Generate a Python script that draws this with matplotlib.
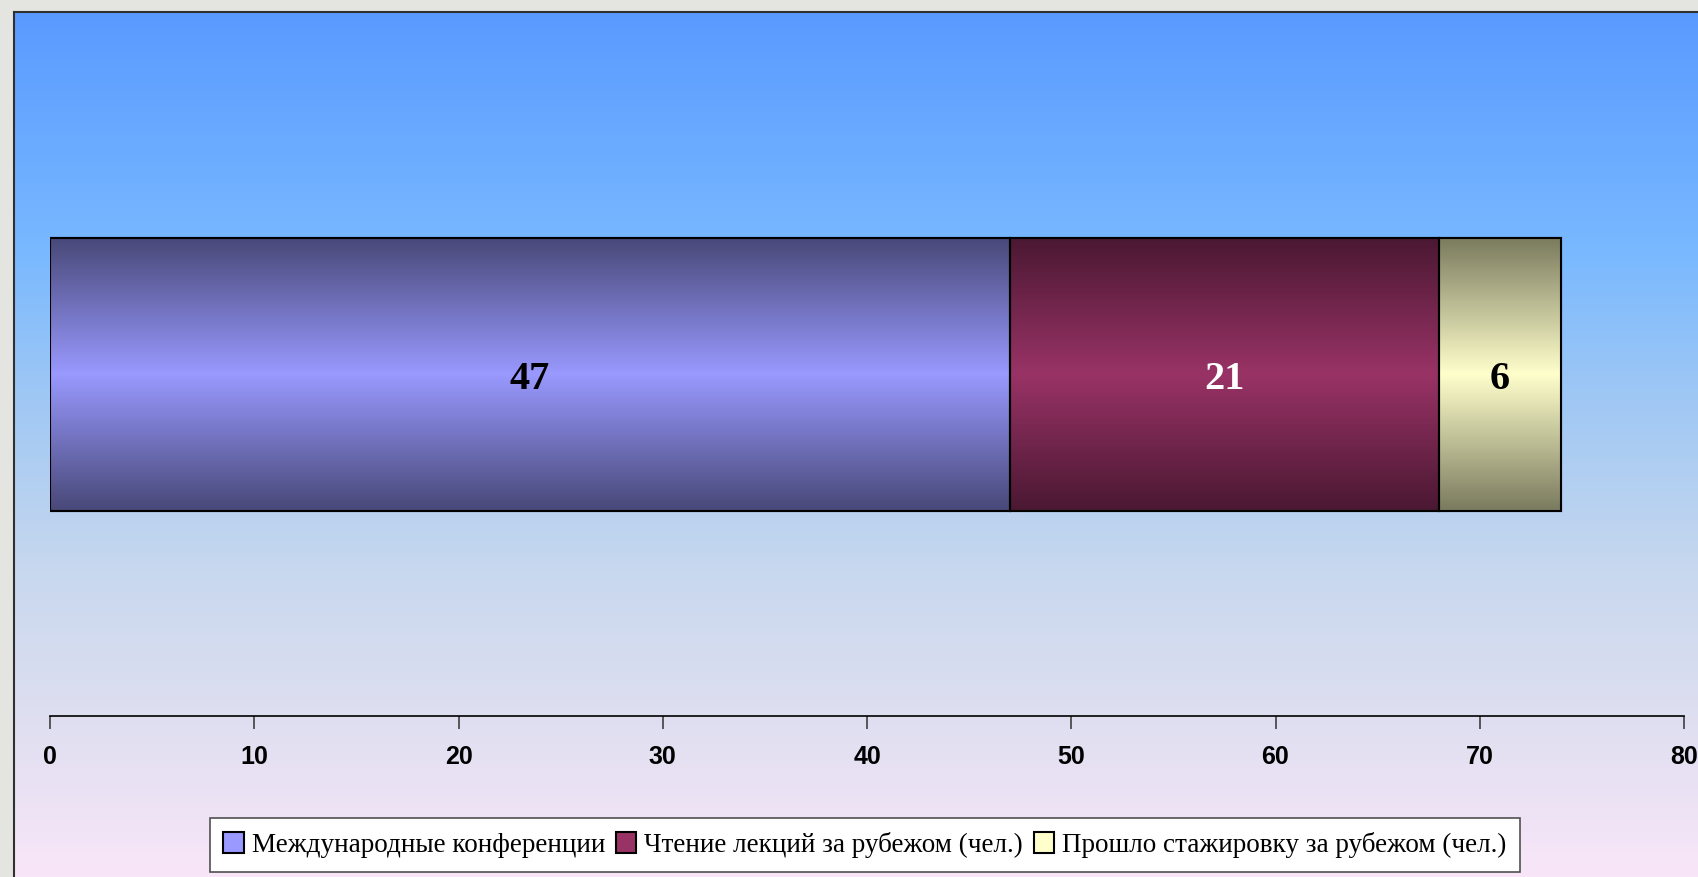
import numpy as np
import matplotlib.pyplot as plt
from matplotlib.colors import LinearSegmentedColormap
from matplotlib.patches import Rectangle

# данные
series = ["Международные конференции",
          "Чтение лекций за рубежом (чел.)",
          "Прошло стажировку за рубежом (чел.)"]
values = [47, 21, 6]
centers = ["#9999FF", "#993366", "#FFFFCC"]
edges = ["#484878", "#4A1832", "#7A7A5E"]
label_colors = ["black", "white", "black"]
xticks = [0, 10, 20, 30, 40, 50, 60, 70, 80]

fig = plt.figure(figsize=(16.98, 8.77), dpi=100)
fig.patch.set_facecolor("#E4E4E0")

# фон области диаграммы (градиент сверху вниз)
bg = fig.add_axes([14 / 1698, 0, 1 - 14 / 1698, 1 - 12 / 877])
bg_cmap = LinearSegmentedColormap.from_list("bg", [
    (0.0, "#5A9AFF"), (0.27, "#78B8FF"), (0.45, "#A0C8F4"),
    (0.65, "#C8D8EE"), (0.80, "#DCDEF0"), (1.0, "#F8E6F8")])
bg.imshow(np.linspace(0, 1, 256).reshape(-1, 1), cmap=bg_cmap, aspect="auto",
          extent=[0, 1, 0, 1], origin="upper")
bg.set_xticks([])
bg.set_yticks([])
for s in ["right", "bottom"]:
    bg.spines[s].set_visible(False)
for s in ["left", "top"]:
    bg.spines[s].set_color("#303030")
    bg.spines[s].set_linewidth(1.5)
bg.set_zorder(0)

ax = fig.add_axes([50 / 1698, 1 - 716 / 877, (1684 - 50) / 1698, (716 - 33) / 877])
ax.patch.set_alpha(0)
ax.set_zorder(1)

left = 0
bars = []
for i, v in enumerate(values):
    b = ax.barh(0, v, left=left, height=0.4, color=centers[i],
                edgecolor="black", linewidth=1.5, label=series[i])
    p = b.patches[0]
    cmap = LinearSegmentedColormap.from_list("g%d" % i,
                                             [edges[i], centers[i], edges[i]])
    im = ax.imshow(np.linspace(0, 1, 256).reshape(-1, 1), cmap=cmap,
                   aspect="auto", extent=[left, left + v, -0.2, 0.2],
                   zorder=2)
    im.set_clip_path(p)
    ax.add_patch(Rectangle((left, -0.2), v, 0.4, fill=False,
                           edgecolor="black", linewidth=1.5, zorder=3))
    ax.text(left + v / 2, -0.008, str(v), ha="center", va="center",
            fontsize=29, fontweight="bold", family="Liberation Serif",
            color=label_colors[i], zorder=4)
    bars.append(b)
    left += v

ax.set_xlim(0, 80)
ax.set_ylim(-0.5, 0.5)
ax.set_yticks([])
ax.set_xticks(xticks)
ax.set_xticklabels([str(t) for t in xticks], fontsize=18, fontweight="bold",
                   family="Liberation Sans")
ax.tick_params(axis="x", length=9, width=1.2, color="#404040", pad=12)
for s in ["left", "right", "top"]:
    ax.spines[s].set_visible(False)
ax.spines["bottom"].set_linewidth(1.2)

leg = fig.legend(handles=[b.patches[0] for b in bars], labels=series,
                 loc="center", bbox_to_anchor=(865 / 1698, 1 - 845 / 877),
                 ncol=3, prop={"family": "Liberation Serif", "size": 19.5},
                 frameon=True, fancybox=False, handlelength=0.75,
                 handleheight=0.8, handletextpad=0.3, columnspacing=0.4,
                 borderpad=0.5, borderaxespad=0)
leg.get_frame().set_edgecolor("#505050")
leg.get_frame().set_linewidth(1.2)
leg.get_frame().set_facecolor("white")
leg.get_frame().set_alpha(1)

fig.savefig("out.png", dpi=100)
